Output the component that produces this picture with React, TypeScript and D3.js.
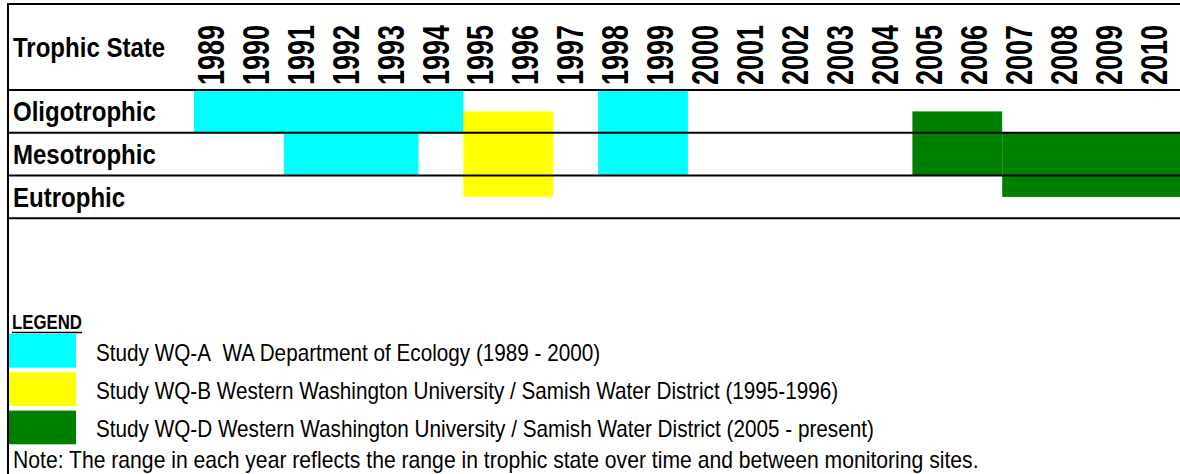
import React from 'react';
import * as d3 from 'd3';

// tick labels and row categories
const years = [
  1989, 1990, 1991, 1992, 1993, 1994, 1995, 1996, 1997, 1998, 1999,
  2000, 2001, 2002, 2003, 2004, 2005, 2006, 2007, 2008, 2009, 2010,
];
const trophicStates = ['Oligotrophic', 'Mesotrophic', 'Eutrophic'];

// studies shown in the legend
const studyIds = ['WQ-A', 'WQ-B', 'WQ-D'];
const studyLabels = [
  'Study WQ-A\u00A0 WA Department of Ecology (1989 - 2000)',
  'Study WQ-B Western Washington University / Samish Water District (1995-1996)',
  'Study WQ-D Western Washington University / Samish Water District (2005 - present)',
];

// observed ranges: first/last year, trophic state span (0 = top of oligotrophic, 3 = bottom of eutrophic)
const rangeStudy = ['WQ-A', 'WQ-A', 'WQ-A', 'WQ-B', 'WQ-D', 'WQ-D'];
const rangeFrom = [1989, 1991, 1998, 1995, 2005, 2007];
const rangeTo = [1994, 1993, 1999, 1996, 2006, 2010];
const rangeLow = [0, 1, 0, 0.5, 0.5, 1];
const rangeHigh = [1, 2, 2, 2.5, 2, 2.5];

const note =
  'Note: The range in each year reflects the range in trophic state over time and between monitoring sites.';

const W = 1180;
const H = 474;
const FONT = '"Liberation Sans", Arial, sans-serif';

export default function App() {
  const x = d3.scaleLinear().domain([1989, 2011]).range([194, 194 + 22 * 44.9]);
  const y = d3.scaleLinear().domain([0, 3]).range([90, 218.3]);
  const color = d3
    .scaleOrdinal<string, string>()
    .domain(studyIds)
    .range(['#00FFFF', '#FFFF00', '#008000']);

  const ranges = rangeStudy.map((s, i) => ({
    study: s,
    from: rangeFrom[i],
    to: rangeTo[i],
    low: rangeLow[i],
    high: rangeHigh[i],
  }));

  const rowLines = [0, 1, 2, 3];

  return (
    <svg
      width={W}
      height={H}
      style={{position: 'absolute', left: 0, top: 0, background: '#fff'}}
      fontFamily={FONT}>
      <rect x={0} y={0} width={W} height={H} fill="#fff" />

      {/* range bars */}
      {ranges.map((r, i) => (
        <rect
          key={i}
          x={x(r.from)}
          y={y(r.low)}
          width={x(r.to + 1) - x(r.from)}
          height={y(r.high) - y(r.low)}
          fill={color(r.study)}
        />
      ))}

      {/* grid lines */}
      <line x1={8} x2={W} y1={4} y2={4} stroke="#000" strokeWidth={2} />
      {rowLines.map(d => (
        <line key={d} x1={8} x2={W} y1={y(d)} y2={y(d)} stroke="#000" strokeWidth={2} />
      ))}
      <line x1={8} x2={8} y1={3} y2={H} stroke="#000" strokeWidth={2} />

      {/* header */}
      <text
        transform={`translate(13,57) scale(0.89,1)`}
        fontSize={27}
        fontWeight="bold">
        Trophic State
      </text>
      {years.map(yr => (
        <text
          key={yr}
          transform={`translate(${x(yr) + 30},85) rotate(-90) scale(0.75,1)`}
          fontSize={36}
          fontWeight="bold">
          {yr}
        </text>
      ))}

      {/* row labels */}
      {trophicStates.map((s, i) => (
        <text
          key={s}
          transform={`translate(13,${y(i) + 31}) scale(0.89,1)`}
          fontSize={27}
          fontWeight="bold">
          {s}
        </text>
      ))}

      {/* legend */}
      <text transform="translate(12,329) scale(0.8,1)" fontSize={21} fontWeight="bold">
        LEGEND
      </text>
      <line x1={12} x2={82} y1={332.5} y2={332.5} stroke="#000" strokeWidth={1.5} />
      {studyIds.map((id, i) => (
        <g key={id}>
          <rect x={9} y={334 + i * 38.3} width={67} height={33.7} fill={color(id)} />
          <text
            transform={`translate(96,${361 + i * 38}) scale(0.9,1)`}
            fontSize={23}>
            {studyLabels[i]}
          </text>
        </g>
      ))}

      <text transform="translate(13,468) scale(0.92,1)" fontSize={23}>
        {note}
      </text>
    </svg>
  );
}
